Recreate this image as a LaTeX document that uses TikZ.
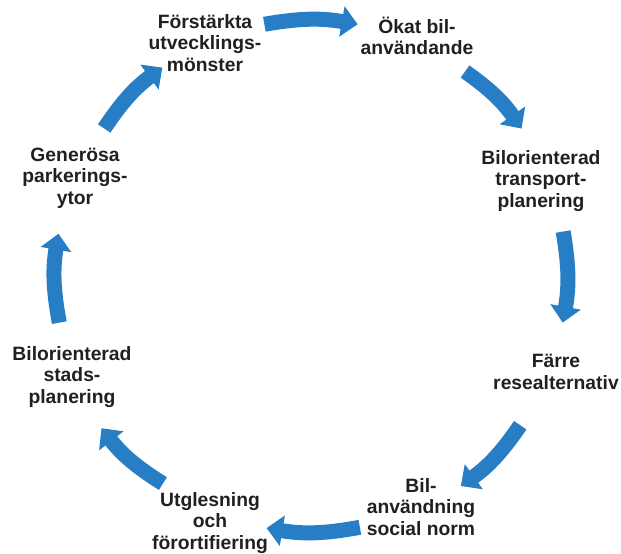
\documentclass[tikz,border=0pt]{standalone}
\usepackage{fontspec}
\setmainfont{Liberation Sans}
\usetikzlibrary{arrows.meta,calc}
\definecolor{arrblue}{RGB}{40,126,196}
\definecolor{txt}{RGB}{35,31,32}
\begin{document}
\begin{tikzpicture}[x=1pt,y=1pt,
  lbl/.style={align=center,font=\fontsize{19.3}{21.5}\selectfont\bfseries,text=txt,inner sep=0pt},
  arr/.style={draw=arrblue,line width=15pt,-{Triangle[length=16pt,width=30pt]}}]
\useasboundingbox (0,0) rectangle (621,554);
\coordinate (C) at (311,278);
% labels
\node[lbl] (n1) at (205,511) {Förstärkta\\utvecklings-\\mönster};
\node[lbl] (n2) at (417,518) {Ökat bil-\\användande};
\node[lbl] (n3) at (541,373) {Bilorienterad\\transport-\\planering};
\node[lbl] (n4) at (556,182) {Färre\\resealternativ};
\node[lbl] (n5) at (421,47) {Bil-\\användning\\social norm};
\node[lbl] (n6) at (210,31) {Utglesning\\och\\förortifiering};
\node[lbl] (n7) at (72,177) {Bilorienterad\\stads-\\planering};
\node[lbl] (n8) at (75,376) {Generösa\\parkerings-\\ytor};
% arrow end points on the cycle
\coordinate (s1) at ($(C)+(100.5:256)$); \coordinate (e1) at ($(C)+(79.5:256)$);
\coordinate (s2) at ($(C)+(53:256)$);    \coordinate (e2) at ($(C)+(35:257)$);
\coordinate (s3) at ($(C)+(10:256)$);    \coordinate (e3) at ($(C)+(-10.5:256)$);
\coordinate (s4) at ($(C)+(-35.5:257)$); \coordinate (e4) at ($(C)+(-54.5:258)$);
\coordinate (s5) at ($(C)+(-79:256)$);   \coordinate (e5) at ($(C)+(-100:256)$);
\coordinate (s6) at ($(C)+(-125.5:255)$);\coordinate (e6) at ($(C)+(-144:259)$);
\coordinate (s7) at ($(C)+(190.5:256)$); \coordinate (e7) at ($(C)+(170.5:256)$);
\coordinate (s8) at ($(C)+(144.5:254)$); \coordinate (e8) at ($(C)+(125.5:256)$);
\foreach \i in {1,...,8}{
  \draw[arr] (s\i) to[bend left=10] (e\i);
}
\end{tikzpicture}
\end{document}
